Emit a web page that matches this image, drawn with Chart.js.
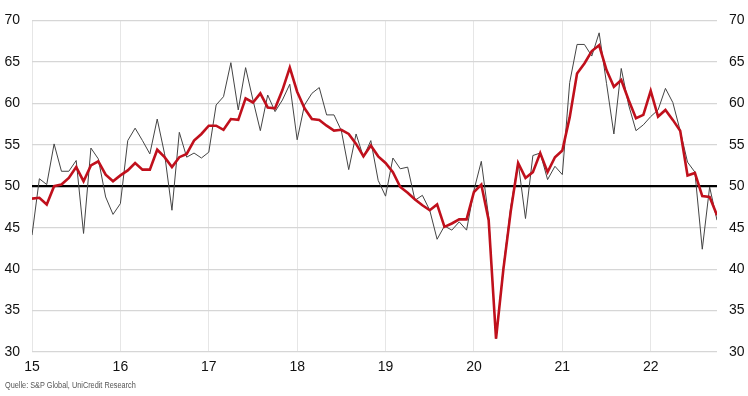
<!DOCTYPE html>
<html>
<head>
<meta charset="utf-8">
<script src="https://cdn.jsdelivr.net/npm/chart.js@4.4.0/dist/chart.umd.min.js"></script>
<style>
  body { margin:0; background:#fff; }
  #wrap { position:relative; width:748px; height:396px; }
  #quelle { position:absolute; left:5px; top:380px; font:8.5px "Liberation Sans", Arial, sans-serif; color:#555;
            transform:scaleX(0.86); transform-origin:left top; white-space:nowrap; }
</style>
</head>
<body>
<div id="wrap">
  <canvas id="grafico"></canvas>
  <div id="quelle">Quelle: S&amp;P Global, UniCredit Research</div>
</div>
<script>
// Monatswerte Jan 2015 - Okt 2022
const indexMonat = [
  44.1,50.9,50.2,55.1,51.8,51.8,53.1,44.3,54.6,53.3,48.7,46.6,
  47.9,55.5,57.0,55.5,53.9,58.1,53.9,47.1,56.5,53.5,54.0,53.4,
  54.1,59.8,60.8,64.9,59.2,64.3,60.4,56.7,61.0,59.0,60.4,62.3,
  55.6,59.8,61.2,61.9,58.6,58.6,56.7,52.0,56.3,53.5,55.5,50.7,
  48.8,53.4,52.1,52.3,48.3,48.9,47.1,43.6,45.2,44.7,45.7,44.7,
  49.5,53.0,46.3,31.6,40.3,47.5,52.9,46.1,53.7,54.0,50.8,52.4,
  51.4,62.5,67.1,67.1,65.7,68.5,62.4,56.3,64.2,59.8,56.7,57.4,
  58.4,59.2,61.8,60.1,56.7,52.9,51.7,42.4,49.9,45.9
];
// geglätteter Verlauf
const index3M = [
  48.5,48.6,47.8,50.0,50.2,51.0,52.3,50.6,52.5,53.0,51.4,50.6,
  51.3,51.9,52.8,52.0,52.0,54.4,53.5,52.3,53.5,53.9,55.5,56.3,
  57.3,57.3,56.8,58.1,58.0,60.6,60.1,61.2,59.5,59.4,61.6,64.3,
  61.4,59.4,58.1,58.0,57.3,56.7,56.8,56.3,55.1,53.6,54.9,53.6,
  52.8,51.7,49.9,49.2,48.4,47.7,47.1,47.8,45.1,45.5,46.0,46.0,
  49.3,50.2,45.9,31.6,40.0,47.0,52.8,51.0,51.7,54.0,51.7,53.5,
  54.3,58.3,63.6,64.8,66.3,67.0,64.0,62.0,62.8,60.4,58.2,58.6,
  61.5,58.4,59.2,58.0,56.7,51.3,51.6,48.8,48.7,46.5
];
const jahre = ['15','16','17','18','19','20','21','22'];
const yTicks = [30,35,40,45,50,55,60,65,70];

const pts = arr => arr.map((v,i)=>({x:i, y:v}));
const schrift = { family:'"Liberation Sans", Arial, sans-serif', size:14 };

new Chart(document.getElementById('grafico'), {
  type:'line',
  data:{
    datasets:[
      { data:pts(index3M), borderColor:'#c0101c', borderWidth:2.6, pointRadius:0, tension:0, order:0 },
      { data:pts(indexMonat), borderColor:'#444', borderWidth:1, pointRadius:0, tension:0, order:1 }
    ]
  },
  options:{
    responsive:true,
    maintainAspectRatio:false,
    animation:false,
    layout:{ padding:{ top:20, left:0, right:0, bottom:0 } },
    plugins:{ legend:{display:false}, tooltip:{enabled:false} },
    scales:{
      x:{
        type:'linear', min:0, max:indexMonat.length-1,
        grid:{ color:'#e6e6e6', lineWidth:1, drawTicks:false },
        border:{ display:false },
        ticks:{ stepSize:12, includeBounds:false, autoSkip:false, maxRotation:0, padding:7,
                color:'#111', font:schrift,
                callback:v => jahre[v/12] },
        afterFit:s => { s.height = 44; }
      },
      y:{
        position:'left', min:yTicks[0], max:yTicks[yTicks.length-1],
        afterBuildTicks:s => { s.ticks = yTicks.map(v=>({value:v})); },
        grid:{ drawTicks:false,
               color:c => c.tick && c.tick.value === 50 ? '#000' : '#d6d6d6',
               lineWidth:c => c.tick && c.tick.value === 50 ? 2.2 : 1.2 },
        border:{ display:false },
        ticks:{ padding:12, color:'#111', font:schrift },
        afterFit:s => { s.width = 32; }
      },
      y2:{
        position:'right', min:yTicks[0], max:yTicks[yTicks.length-1],
        afterBuildTicks:s => { s.ticks = yTicks.map(v=>({value:v})); },
        grid:{ display:false, drawTicks:false },
        border:{ display:false },
        ticks:{ padding:12, color:'#111', font:schrift },
        afterFit:s => { s.width = 31; }
      }
    }
  }
});
</script>
</body>
</html>
